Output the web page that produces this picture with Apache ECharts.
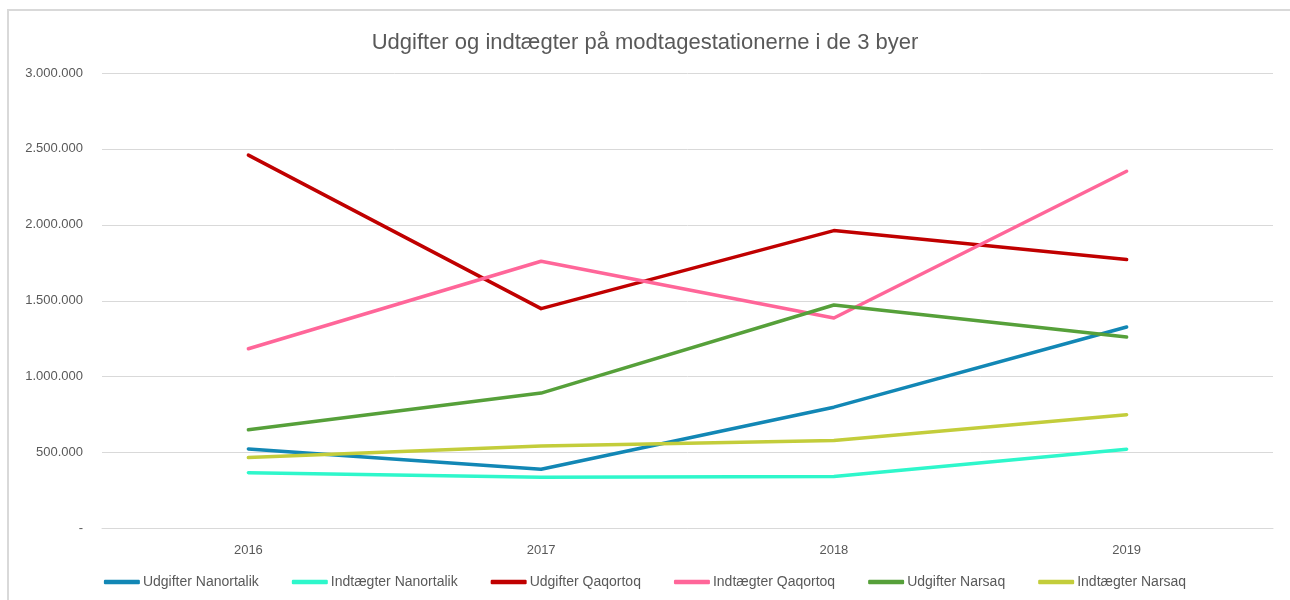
<!DOCTYPE html>
<html>
<head>
<meta charset="utf-8">
<script src="https://cdn.jsdelivr.net/npm/echarts@6/dist/echarts.min.js"></script>
<style>html,body{margin:0;padding:0;background:#fff}#c{width:1290px;height:600px}</style>
</head>
<body>
<div id="c"></div>
<script>
const categories = ['2016', '2017', '2018', '2019'];
const udgifterNanortalik = [524000, 390000, 799000, 1327000];
const indtaegterNanortalik = [368000, 338000, 342000, 522000];
const udgifterQaqortoq = [2459000, 1448000, 1962000, 1771000];
const indtaegterQaqortoq = [1184000, 1760000, 1386000, 2353000];
const udgifterNarsaq = [650000, 892000, 1472000, 1261000];
const indtaegterNarsaq = [467000, 544000, 579000, 749000];
const seriesNames = ['Udgifter Nanortalik', 'Indtægter Nanortalik', 'Udgifter Qaqortoq', 'Indtægter Qaqortoq', 'Udgifter Narsaq', 'Indtægter Narsaq'];
const seriesColors = ['#1287b5', '#2ef7cb', '#c00000', '#ff6699', '#56a03a', '#c3cd3b'];
const seriesData = [udgifterNanortalik, indtaegterNanortalik, udgifterQaqortoq, indtaegterQaqortoq, udgifterNarsaq, indtaegterNarsaq];

const chart = echarts.init(document.getElementById('c'));
const fmt = v => v === 0 ? '-' : String(v).replace(/\B(?=(\d{3})+(?!\d))/g, '.');
chart.setOption({
  animation: false,
  textStyle: { fontFamily: 'Liberation Sans, Arial, sans-serif' },
  graphic: [{
    type: 'polyline', shape: { points: [[8, 600], [8, 10], [1290, 10]] },
    style: { fill: 'none', stroke: '#d9d9d9', lineWidth: 2 }, silent: true
  }],
  title: {
    text: 'Udgifter og indtægter på modtagestationerne i de 3 byer',
    left: 'center', top: 27,
    textStyle: { fontSize: 22, fontWeight: 'normal', color: '#595959' }
  },
  legend: {
    bottom: 6, left: 'center', itemWidth: 36, itemHeight: 4.5, itemGap: 33,
    icon: 'roundRect',
    textStyle: { fontSize: 14, color: '#595959', padding: [0, 0, 0, -2] },
    data: seriesNames
  },
  grid: { left: 102, right: 17, top: 73, bottom: 71.5, containLabel: false },
  xAxis: {
    type: 'category', data: categories, boundaryGap: true,
    axisLine: { lineStyle: { color: '#d9d9d9', width: 1 } },
    axisTick: { show: false },
    axisLabel: { fontSize: 13, color: '#595959', margin: 15 }
  },
  yAxis: {
    type: 'value', min: 0, max: 3000000, interval: 500000,
    axisLine: { show: false }, axisTick: { show: false },
    splitLine: { lineStyle: { color: '#d9d9d9', width: 1 } },
    axisLabel: { fontSize: 13, color: '#595959', margin: 19, formatter: fmt }
  },
  series: seriesNames.map((n, i) => ({
    name: n, type: 'line', data: seriesData[i], showSymbol: false, symbol: 'none',
    itemStyle: { color: seriesColors[i] },
    lineStyle: { color: seriesColors[i], width: 3.5, cap: 'round', join: 'round' }
  }))
});
</script>
</body>
</html>
